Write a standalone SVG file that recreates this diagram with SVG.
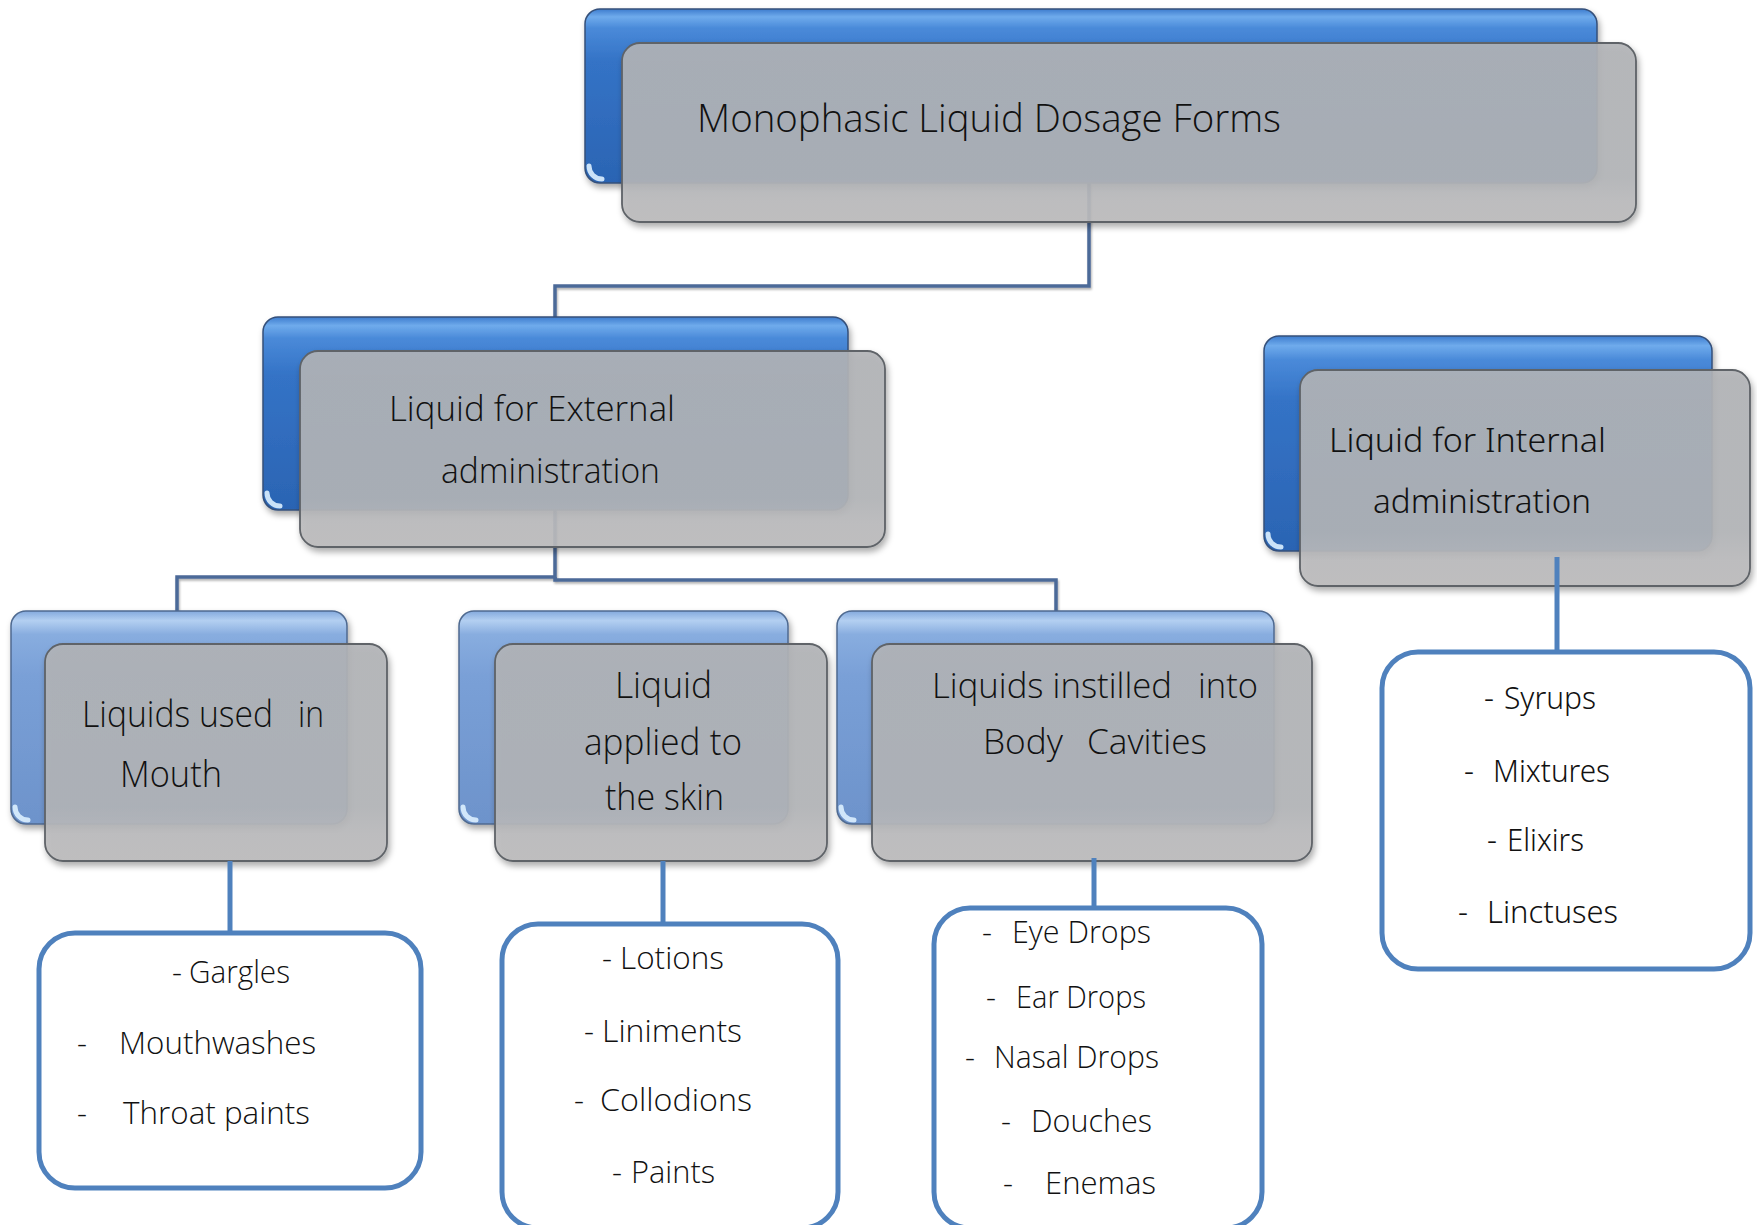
<svg xmlns="http://www.w3.org/2000/svg" width="1757" height="1225" viewBox="0 0 1757 1225">
  <defs>
    <linearGradient id="gBlue" x1="0" y1="0" x2="0" y2="1">
      <stop offset="0" stop-color="#3d7cce"/>
      <stop offset="0.045" stop-color="#6fabec"/>
      <stop offset="0.11" stop-color="#4a8ad9"/>
      <stop offset="0.3" stop-color="#3473c6"/>
      <stop offset="1" stop-color="#2b64b3"/>
    </linearGradient>
    <linearGradient id="gBlueLight" x1="0" y1="0" x2="0" y2="1">
      <stop offset="0" stop-color="#83a9dd"/>
      <stop offset="0.045" stop-color="#b3cff1"/>
      <stop offset="0.11" stop-color="#88addf"/>
      <stop offset="0.3" stop-color="#7aa0d7"/>
      <stop offset="1" stop-color="#6d93cb"/>
    </linearGradient>
    <linearGradient id="gGrey" x1="0" y1="0" x2="0" y2="1">
      <stop offset="0" stop-color="#b2b4b7"/>
      <stop offset="0.75" stop-color="#b3b5b8"/>
      <stop offset="0.88" stop-color="#bbbbbd"/>
      <stop offset="1" stop-color="#bdbcbd"/>
    </linearGradient>
    <filter id="shadow" x="-5%" y="-5%" width="112%" height="120%">
      <feDropShadow dx="2" dy="4" stdDeviation="3" flood-color="#000" flood-opacity="0.35"/>
    </filter>
    <filter id="lineShadow" x="-5%" y="-5%" width="110%" height="110%">
      <feDropShadow dx="1" dy="2" stdDeviation="1.2" flood-color="#000" flood-opacity="0.3"/>
    </filter>
    <style>
      .back { fill: url(#gBlue); stroke: #34507a; stroke-width: 1.5; filter: url(#shadow); }
      .backLight { fill: url(#gBlueLight); stroke: #4f6a90; stroke-width: 1.5; filter: url(#shadow); }
      .front { fill: url(#gGrey); fill-opacity: 0.9; stroke: #5f6368; stroke-width: 1.8; filter: url(#shadow); }
      .gloss { fill: none; stroke: #dcefff; stroke-width: 5; stroke-linecap: round; opacity: 0.9; }
      .lbl { font-family: "Open Sans", "Liberation Sans", sans-serif; font-weight: 300; fill: #111; }
      .lblT { font-family: "Noto Sans", "Open Sans", sans-serif; font-weight: 300; fill: #111; }
      .thin { fill: none; stroke: #4c6a98; stroke-width: 3.5; filter: url(#lineShadow); }
      .thick { fill: none; stroke: #4f81bd; stroke-width: 5; }
      .list { fill: #ffffff; stroke: #4f81bd; stroke-width: 5; }
      .item { font-family: "Open Sans", "Liberation Sans", sans-serif; font-weight: 300; font-size: 31px; fill: #111; }
      .itemT { font-family: "Noto Sans", "Open Sans", sans-serif; font-weight: 300; font-size: 31px; fill: #111; }
    </style>
  </defs>

  <rect width="1757" height="1225" fill="#ffffff"/>

  <!-- tree links between the category panels -->
  <g id="connectors">
    <path class="thin" d="M1089,183 V286 H555 V317"/>
    <path class="thin" d="M555,510 V577 H177 V611"/>
    <path class="thin" d="M555,577 V580 H1056 V611"/>
    <path class="thin" d="M624,580 V611"/>
  </g>

  <!-- root -->
  <g id="node-root">
    <rect class="back" x="585" y="9" width="1012" height="174" rx="15"/>
    <path class="gloss" d="M589,166 A13 13 0 0 0 602,179"/>
    <rect class="front" x="622" y="43" width="1014" height="179" rx="18"/>
    <text class="lbl" x="697" y="132" font-size="39" textLength="584" lengthAdjust="spacingAndGlyphs">Monophasic Liquid Dosage Forms</text>
  </g>

  <!-- external branch -->
  <g id="node-external">
    <rect class="back" x="263" y="317" width="585" height="193" rx="15"/>
    <path class="gloss" d="M267,493 A13 13 0 0 0 280,506"/>
    <rect class="front" x="300" y="351" width="585" height="196" rx="18"/>
    <text class="lbl" x="389" y="421" font-size="35" textLength="286" lengthAdjust="spacingAndGlyphs">Liquid for External</text>
    <text class="lbl" x="441" y="483" font-size="35" textLength="219" lengthAdjust="spacingAndGlyphs">administration</text>
  </g>

  <!-- internal branch -->
  <g id="node-internal">
    <rect class="back" x="1264" y="336" width="448" height="215" rx="15"/>
    <path class="gloss" d="M1268,534 A13 13 0 0 0 1281,547"/>
    <rect class="front" x="1300" y="370" width="450" height="216" rx="18"/>
    <text class="lblT" x="1329" y="452" font-size="33" textLength="277" lengthAdjust="spacingAndGlyphs">Liquid for Internal</text>
    <text class="lblT" x="1373" y="513" font-size="33" textLength="218" lengthAdjust="spacingAndGlyphs">administration</text>
  </g>

  <!-- mouth -->
  <g id="node-mouth">
    <rect class="backLight" x="11" y="611" width="336" height="213" rx="15"/>
    <path class="gloss" d="M15,807 A13 13 0 0 0 28,820"/>
    <rect class="front" x="45" y="644" width="342" height="217" rx="18"/>
    <text class="lbl" x="82" y="727" font-size="37" textLength="191" lengthAdjust="spacingAndGlyphs">Liquids used</text>
    <text class="lbl" x="298" y="727" font-size="37" textLength="26" lengthAdjust="spacingAndGlyphs">in</text>
    <text class="lbl" x="120" y="787" font-size="37" textLength="102" lengthAdjust="spacingAndGlyphs">Mouth</text>
  </g>

  <!-- skin -->
  <g id="node-skin">
    <rect class="backLight" x="459" y="611" width="329" height="213" rx="15"/>
    <path class="gloss" d="M463,807 A13 13 0 0 0 476,820"/>
    <rect class="front" x="495" y="644" width="332" height="217" rx="18"/>
    <text class="lbl" x="615" y="698" font-size="36" textLength="97" lengthAdjust="spacingAndGlyphs">Liquid</text>
    <text class="lbl" x="584" y="755" font-size="36" textLength="158" lengthAdjust="spacingAndGlyphs">applied to</text>
    <text class="lbl" x="605" y="810" font-size="36" textLength="119" lengthAdjust="spacingAndGlyphs">the skin</text>
  </g>

  <!-- body cavities -->
  <g id="node-cavities">
    <rect class="backLight" x="837" y="611" width="437" height="213" rx="15"/>
    <path class="gloss" d="M841,807 A13 13 0 0 0 854,820"/>
    <rect class="front" x="872" y="644" width="440" height="217" rx="18"/>
    <text class="lbl" x="932" y="698" font-size="35" textLength="240" lengthAdjust="spacingAndGlyphs">Liquids instilled</text>
    <text class="lbl" x="1198" y="698" font-size="35" textLength="60" lengthAdjust="spacingAndGlyphs">into</text>
    <text class="lbl" x="983" y="754" font-size="35" textLength="80" lengthAdjust="spacingAndGlyphs">Body</text>
    <text class="lbl" x="1087" y="754" font-size="35" textLength="120" lengthAdjust="spacingAndGlyphs">Cavities</text>
  </g>

  <!-- links down to the example lists -->
  <g id="list-connectors">
    <path class="thick" d="M230,861 V933"/>
    <path class="thick" d="M663,861 V924"/>
    <path class="thick" d="M1094,858 V908"/>
    <path class="thick" d="M1557,557 V652"/>
  </g>

  <g id="list-mouth">
    <rect class="list" x="39" y="933" width="382" height="255" rx="36"/>
    <text class="item" x="172" y="983">-</text>
    <text class="item" x="189" y="983" textLength="101" lengthAdjust="spacingAndGlyphs">Gargles</text>
    <text class="item" x="77" y="1054">-</text>
    <text class="item" x="119" y="1054" textLength="197" lengthAdjust="spacingAndGlyphs">Mouthwashes</text>
    <text class="item" x="77" y="1124">-</text>
    <text class="item" x="123" y="1124" textLength="187" lengthAdjust="spacingAndGlyphs">Throat paints</text>
  </g>

  <g id="list-skin">
    <rect class="list" x="502" y="924" width="336" height="304" rx="36"/>
    <text class="item" x="602" y="969">-</text>
    <text class="item" x="620" y="969" textLength="104" lengthAdjust="spacingAndGlyphs">Lotions</text>
    <text class="item" x="584" y="1042">-</text>
    <text class="item" x="602" y="1042" textLength="140" lengthAdjust="spacingAndGlyphs">Liniments</text>
    <text class="item" x="574" y="1111">-</text>
    <text class="item" x="600" y="1111" textLength="152" lengthAdjust="spacingAndGlyphs">Collodions</text>
    <text class="item" x="612" y="1183">-</text>
    <text class="item" x="631" y="1183" textLength="84" lengthAdjust="spacingAndGlyphs">Paints</text>
  </g>

  <g id="list-cavities">
    <rect class="list" x="934" y="908" width="328" height="320" rx="36"/>
    <text class="item" x="982" y="943">-</text>
    <text class="item" x="1012" y="943" textLength="139" lengthAdjust="spacingAndGlyphs">Eye Drops</text>
    <text class="item" x="986" y="1008">-</text>
    <text class="item" x="1016" y="1008" textLength="130" lengthAdjust="spacingAndGlyphs">Ear Drops</text>
    <text class="item" x="965" y="1068">-</text>
    <text class="item" x="994" y="1068" textLength="165" lengthAdjust="spacingAndGlyphs">Nasal Drops</text>
    <text class="item" x="1001" y="1132">-</text>
    <text class="item" x="1031" y="1132" textLength="121" lengthAdjust="spacingAndGlyphs">Douches</text>
    <text class="item" x="1003" y="1194">-</text>
    <text class="item" x="1045" y="1194" textLength="111" lengthAdjust="spacingAndGlyphs">Enemas</text>
  </g>

  <g id="list-internal">
    <rect class="list" x="1382" y="652" width="368" height="317" rx="36"/>
    <text class="itemT" x="1484" y="709">-</text>
    <text class="itemT" x="1504" y="709" textLength="92" lengthAdjust="spacingAndGlyphs">Syrups</text>
    <text class="itemT" x="1464" y="782">-</text>
    <text class="itemT" x="1493" y="782" textLength="117" lengthAdjust="spacingAndGlyphs">Mixtures</text>
    <text class="itemT" x="1487" y="851">-</text>
    <text class="itemT" x="1507" y="851" textLength="77" lengthAdjust="spacingAndGlyphs">Elixirs</text>
    <text class="itemT" x="1458" y="923">-</text>
    <text class="itemT" x="1487" y="923" textLength="131" lengthAdjust="spacingAndGlyphs">Linctuses</text>
  </g>
</svg>
